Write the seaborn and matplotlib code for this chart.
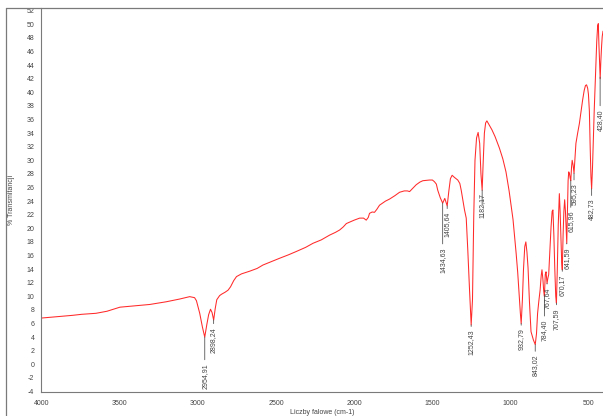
import numpy as np
import pandas as pd
import matplotlib
matplotlib.use("Agg")
import matplotlib.pyplot as plt
import seaborn as sns
from matplotlib.ticker import MultipleLocator
from matplotlib.lines import Line2D

# IR spectrum (wavenumber in cm-1, % transmittance)
wavenumber = [
    4000, 3900, 3800, 3742, 3650, 3580, 3497, 3400, 3306, 3200, 3115, 3051, 3020,
    3008, 2987, 2970, 2955, 2942, 2930, 2918, 2908, 2898, 2888, 2878, 2860, 2848,
    2825, 2806, 2790, 2770, 2752, 2720, 2667, 2620, 2583, 2530, 2476, 2420, 2369,
    2310, 2263, 2210, 2157, 2120, 2093, 2070, 2050, 2000, 1965, 1940, 1923, 1910,
    1902, 1885, 1870, 1855, 1838, 1800, 1774, 1740, 1710, 1680, 1660, 1646, 1625,
    1604, 1580, 1561, 1519, 1500, 1487, 1475, 1466, 1450, 1434.6, 1421, 1405.6,
    1395, 1385, 1374, 1360, 1338, 1325, 1316, 1295, 1284, 1274, 1263, 1252.4, 1244,
    1236, 1228, 1218, 1208, 1198, 1190, 1182.2, 1176, 1168, 1160, 1152, 1140, 1120,
    1100, 1072, 1050, 1030, 1010, 1000, 985, 965, 955, 945, 938, 932.8, 925, 918,
    910, 903, 896, 889, 880, 870, 855, 843, 835, 828, 820, 812, 805, 800, 794, 789,
    784.4, 779, 774, 767.6, 762, 757, 750, 742, 735, 730, 724, 718, 712, 707.6, 702,
    696, 689, 684, 678, 674, 670.2, 665, 660, 655, 650, 645, 641.6, 637, 633, 629,
    624, 620, 616, 611, 607, 601, 595.2, 590, 583, 572, 561, 550, 540, 530, 522,
    515, 508, 503, 497, 492, 487, 482.7, 477, 471, 466, 458, 450, 444, 440, 436,
    428, 424, 419, 415, 410,
]
transmittance = [
    6.8, 7.0, 7.2, 7.35, 7.5, 7.8, 8.4, 8.6, 8.8, 9.2, 9.6, 9.95, 9.8,
    9.35, 7.5, 5.5, 4.0, 5.8, 7.3, 8.1, 7.6, 6.5, 8.2, 9.5, 10.1, 10.3,
    10.6, 10.9, 11.4, 12.3, 12.9, 13.3, 13.7, 14.1, 14.6, 15.1, 15.6, 16.1, 16.6,
    17.2, 17.8, 18.3, 19.0, 19.4, 19.75, 20.2, 20.7, 21.2, 21.5, 21.5, 21.2, 21.6,
    22.2, 22.4, 22.35, 22.8, 23.4, 24.0, 24.3, 24.8, 25.3, 25.5, 25.5, 25.4, 25.9,
    26.4, 26.8, 27.0, 27.1, 27.1, 26.85, 26.5, 25.6, 24.5, 23.7, 24.4, 23.3,
    25.5, 27.3, 27.8, 27.5, 27.1, 26.6, 25.6, 22.7, 21.5, 16.8, 11.0, 5.8, 9.5,
    21.7, 30.0, 33.3, 34.1, 32.5, 28.0, 25.6, 29.5, 34.0, 35.5, 35.8, 35.3, 34.5,
    33.5, 31.8, 30.2, 28.3, 25.5, 23.8, 21.3, 16.3, 13.5, 10.0, 7.5, 6.0, 9.5, 14.0,
    17.3, 18.0, 16.5, 14.2, 9.2, 4.8, 3.6, 2.9, 4.5, 7.5, 9.3, 10.9, 13.0, 13.9, 12.5, 10.8,
    10.0, 13.2, 13.6, 11.9, 12.7, 13.2, 16.5, 20.2, 22.5, 22.7, 19.0, 14.0, 10.0, 9.0, 14.0,
    20.5, 25.1, 22.5, 18.0, 15.0, 13.9, 19.0, 22.5, 24.2, 22.5, 19.5, 17.8, 22.5, 27.0, 28.3,
    28.0, 27.4, 27.0, 29.0, 30.0, 29.3, 28.1, 30.0, 32.5, 34.0, 35.4, 37.2, 38.9, 40.3, 41.0,
    41.1, 40.6, 39.7, 37.2, 32.0, 27.6, 25.8, 29.0, 33.5, 37.4, 42.5, 47.5, 49.8, 50.1, 47.0,
    42.0, 44.5, 46.8, 48.2, 49.0,
]

# marked bands
peak_wn = [2954.91, 2898.24, 1434.63, 1405.64, 1252.43, 1182.17, 932.79, 843.02,
           784.40, 767.64, 707.59, 670.17, 641.59, 615.96, 595.23, 482.73, 428.40]
peak_txt = ["2954,91", "2898,24", "1434,63", "1405,64", "1252,43", "1182,17", "932,79",
            "843,02", "784,40", "767,64", "707,59", "670,17", "641,59", "615,96",
            "595,23", "482,73", "428,40"]
# length of the leader line under each band, pixels
drop_px = [26, 7, 44, 6, 5, 3, 5, 10, 23, 4, 5, 5, 4, 30, 10, 10, 32]

df = pd.DataFrame({"wn": wavenumber, "T": transmittance})

sns.set_theme(style="white")
plt.rcParams["font.family"] = ["Liberation Sans", "DejaVu Sans"]
plt.rcParams["axes.unicode_minus"] = False

grey = "#7a7a7a"
txt = "#444444"

fig = plt.figure(figsize=(6.03, 4.16), dpi=100)
ax = fig.add_axes([41.2 / 603, 1 - 391.5 / 416, 1 - 41.2 / 603, (391.5 - 8) / 416])

sns.lineplot(data=df, x="wn", y="T", ax=ax, color="#ff2a2a", linewidth=0.75,
             estimator=None, sort=False)

ax.set_xlim(4000, 410)
ax.set_ylim(-4, 52.4)

ax.xaxis.set_major_locator(MultipleLocator(500))
ax.xaxis.set_minor_locator(MultipleLocator(100))
ax.yaxis.set_major_locator(MultipleLocator(2))
ax.yaxis.set_minor_locator(MultipleLocator(0.25))

ax.tick_params(axis="both", which="major", labelsize=5, colors=grey, labelcolor=txt,
               length=3, width=0.6, direction="out", pad=2)
ax.tick_params(axis="both", which="minor", colors=grey, length=1.5, width=0.4,
               direction="out")
ax.tick_params(axis="x", which="major", pad=3)

for side in ["top", "right"]:
    ax.spines[side].set_visible(False)
for side in ["left", "bottom"]:
    ax.spines[side].set_color(grey)
    ax.spines[side].set_linewidth(0.8)

ax.set_xlabel("Liczby falowe (cm-1)", fontsize=5, color=txt, labelpad=1.5)
ax.set_ylabel("")
fig.text(12 / 603, 1 - 200 / 416, "% Transmitancji", rotation=90, fontsize=5,
         color=txt, ha="center", va="center")

# band labels with leader lines
wn_sorted = df["wn"].values[::-1]
t_sorted = df["T"].values[::-1]
for w, label, d in zip(peak_wn, peak_txt, drop_px):
    yv = np.interp(w, wn_sorted, t_sorted)
    ax.annotate(label, xy=(w, yv), xytext=(0, -d), textcoords="offset pixels",
                rotation=90, ha="center", va="top", fontsize=5, color=txt,
                arrowprops=dict(arrowstyle="-", color="#555555", lw=0.6,
                                shrinkA=0, shrinkB=0),
                annotation_clip=False)

# outer frame of the figure
fig.add_artist(Line2D([6 / 603, 6 / 603], [0, 1 - 8 / 416], transform=fig.transFigure,
                      color=grey, lw=0.9))
fig.add_artist(Line2D([6 / 603, 1], [1 - 8 / 416, 1 - 8 / 416], transform=fig.transFigure,
                      color=grey, lw=0.9))

fig.savefig("out.png", dpi=100)
